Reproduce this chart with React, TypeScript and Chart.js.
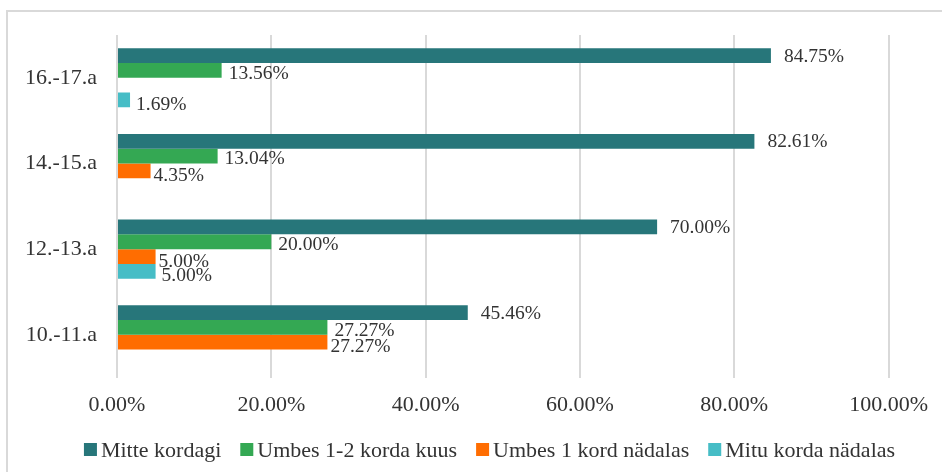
import React, { useEffect, useRef } from "react";
import { Chart, registerables } from "chart.js";

Chart.register(...registerables);

const categories = ["16.-17.a", "14.-15.a", "12.-13.a", "10.-11.a"];
const seriesNames = ["Mitte kordagi", "Umbes 1-2 korda kuus", "Umbes 1 kord nädalas", "Mitu korda nädalas"];
const mitteKordagi = [84.75, 82.61, 70.0, 45.46];
const umbes12Kuus = [13.56, 13.04, 20.0, 27.27];
const umbes1Nadalas = [null, 4.35, 5.0, 27.27];
const mituNadalas = [1.69, null, 5.0, null];
const xTicks = [0, 20, 40, 60, 80, 100];

const colors = ["#27767A", "#34A853", "#FF6D01", "#46BDC6"];
const labelOffsets = [
  { dx: 13, dy: 1 },
  { dx: 7, dy: 3 },
  { dx: 3, dy: 5 },
  { dx: 6, dy: 5 },
];
const FONT = "'Liberation Serif', 'Times New Roman', serif";
const TEXT = "#333333";

const valueLabels = {
  id: "valueLabels",
  afterDatasetsDraw(chart: any) {
    const ctx = chart.ctx;
    ctx.save();
    ctx.font = `19.5px ${FONT}`;
    ctx.fillStyle = TEXT;
    ctx.textAlign = "left";
    ctx.textBaseline = "middle";
    chart.data.datasets.forEach((ds: any, di: number) => {
      const meta = chart.getDatasetMeta(di);
      meta.data.forEach((el: any, i: number) => {
        const v = ds.data[i];
        if (v === null || v === undefined) return;
        const off = labelOffsets[di];
        ctx.fillText(v.toFixed(2) + "%", el.x + off.dx, el.y + off.dy);
      });
    });
    ctx.restore();
  },
};

const customLegend = {
  id: "customLegend",
  afterDraw(chart: any) {
    const ctx = chart.ctx;
    ctx.save();
    ctx.font = `22px ${FONT}`;
    ctx.textBaseline = "alphabetic";
    ctx.textAlign = "left";
    const box = 13;
    const gap = 4;
    const itemGap = 19;
    const widths = chart.data.datasets.map((ds: any) => box + gap + ctx.measureText(ds.label).width);
    const total = widths.reduce((a: number, b: number) => a + b, 0) + itemGap * (widths.length - 1);
    let x = 489.5 - total / 2;
    const baseY = 457;
    chart.data.datasets.forEach((ds: any, i: number) => {
      ctx.fillStyle = ds.backgroundColor;
      ctx.fillRect(x, 443, box, box);
      ctx.fillStyle = TEXT;
      ctx.fillText(ds.label, x + box + gap, baseY);
      x += widths[i] + itemGap;
    });
    ctx.restore();
  },
};

export default function App() {
  const canvasRef = useRef<HTMLCanvasElement | null>(null);

  useEffect(() => {
    document.body.style.margin = "0";
    const canvas = canvasRef.current;
    if (!canvas) return;
    const allSeries = [mitteKordagi, umbes12Kuus, umbes1Nadalas, mituNadalas];
    const chart = new Chart(canvas, {
      type: "bar",
      data: {
        labels: categories,
        datasets: allSeries.map((d, i) => ({
          label: seriesNames[i],
          data: d,
          backgroundColor: colors[i],
          borderWidth: 0,
          categoryPercentage: 0.69,
          barPercentage: 1,
        })),
      },
      options: {
        indexAxis: "y",
        animation: false,
        responsive: false,
        maintainAspectRatio: false,
        devicePixelRatio: 1,
        layout: { padding: { top: 35, right: 53, bottom: 40, left: 0 } },
        plugins: {
          legend: { display: false },
          tooltip: { enabled: false },
          title: { display: false },
        },
        scales: {
          x: {
            min: 0,
            max: 100,
            afterBuildTicks(scale: any) {
              scale.ticks = xTicks.map((v) => ({ value: v }));
            },
            ticks: {
              callback: (v: any) => Number(v).toFixed(2) + "%",
              font: { family: FONT, size: 22 },
              color: TEXT,
              padding: 14,
              maxRotation: 0,
              autoSkip: false,
            },
            grid: { color: "#d9d9d9", lineWidth: 2, drawTicks: false },
            border: { display: false },
          },
          y: {
            afterFit(scale: any) {
              scale.width = 117;
            },
            ticks: {
              font: { family: FONT, size: 22 },
              color: TEXT,
              padding: 20,
            },
            grid: { display: false, drawTicks: false },
            border: { display: false },
          },
        },
      },
      plugins: [valueLabels, customLegend],
    });
    return () => chart.destroy();
  }, []);

  return (
    <div style={{ position: "relative", width: 942, height: 472, background: "#ffffff", overflow: "hidden" }}>
      <div
        style={{
          position: "absolute",
          left: 6,
          top: 10,
          right: -10,
          bottom: -10,
          borderLeft: "2px solid #d9d9d9",
          borderTop: "2px solid #d9d9d9",
        }}
      />
      <canvas ref={canvasRef} width={942} height={472} style={{ position: "absolute", left: 0, top: 0, width: 942, height: 472 }} />
    </div>
  );
}
